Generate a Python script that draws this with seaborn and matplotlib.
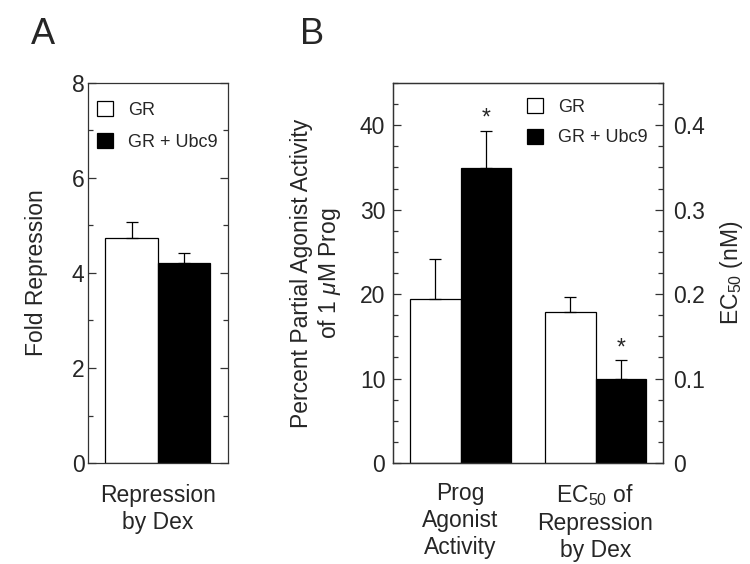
import numpy as np
import pandas as pd
import seaborn as sns
import matplotlib.pyplot as plt

# panel A data
a_category = ["Repression\nby Dex"]
a_gr = [4.73]
a_gr_err = [0.34]
a_ubc9 = [4.21]
a_ubc9_err = [0.20]

# panel B data (left axis: percent agonist activity, right axis: EC50 nM)
b_categories = ["Prog\nAgonist\nActivity", "EC$_{50}$ of\nRepression\nby Dex"]
b_prog_gr = [19.45]
b_prog_gr_err = [4.75]
b_prog_ubc9 = [34.9]
b_prog_ubc9_err = [4.4]
b_ec50_gr = [0.179]
b_ec50_gr_err = [0.018]
b_ec50_ubc9 = [0.099]
b_ec50_ubc9_err = [0.023]

groups = ["GR", "GR + Ubc9"]
colors = {"GR": "white", "GR + Ubc9": "black"}

sns.set_style("ticks")
plt.rcParams['font.family'] = ['Liberation Sans', 'DejaVu Sans']
plt.rcParams['mathtext.fontset'] = 'custom'
plt.rcParams['mathtext.rm'] = 'Liberation Sans'
plt.rcParams['mathtext.it'] = 'Liberation Sans:italic'
plt.rcParams['axes.edgecolor'] = '#333333'
plt.rcParams['axes.linewidth'] = 0.9

FS = 16.5
LEG_FS = 13


def make_df(cats, gr, ubc9):
    return pd.DataFrame({
        "cat": cats * 2,
        "group": ["GR"] * len(cats) + ["GR + Ubc9"] * len(cats),
        "val": list(gr) + list(ubc9),
    })


def add_errors(ax, errs):
    # upper half error bars only, one per drawn bar, left to right
    bars = [p for p in ax.patches if p.get_height() > 0]
    bars = sorted(bars, key=lambda p: p.get_x())
    tops = []
    for p, e in zip(bars, errs):
        x = p.get_x() + p.get_width() / 2
        h = p.get_height()
        ax.errorbar(x, h, yerr=[[0], [e]], color="black", lw=0.9,
                    capsize=4, capthick=0.9)
        tops.append((x, h + e))
    return tops


def style_y(ax, major, minor, pad, left=True, right=True):
    ax.set_yticks(np.arange(0, ax.get_ylim()[1] + 1e-9, major))
    ax.set_yticks(np.arange(0, ax.get_ylim()[1] + 1e-9, minor), minor=True)
    ax.tick_params(axis="y", which="major", direction="in", length=6, width=0.9,
                   left=left, right=right, labelsize=FS, pad=pad, color="#333333")
    ax.tick_params(axis="y", which="minor", direction="in", length=3.5, width=0.9,
                   left=left, right=right, color="#333333")


def style_legend(ax, x, y, spacing):
    leg = ax.legend(loc="upper left", bbox_to_anchor=(x, y), frameon=False,
                    fontsize=LEG_FS, handlelength=0.89, handleheight=0.89,
                    handletextpad=0.83, labelspacing=spacing,
                    borderaxespad=0, borderpad=0)
    for h in leg.legend_handles:
        h.set_edgecolor("black")
        h.set_linewidth(0.9)


fig = plt.figure(figsize=(7.5, 5.64), dpi=100)

# ---------------- panel A
axA = fig.add_axes([0.1173, 0.179, 0.1867, 0.674])
dfA = make_df(a_category, a_gr, a_ubc9)
sns.barplot(data=dfA, x="cat", y="val", hue="group", hue_order=groups,
            palette=colors, edgecolor="black", linewidth=0.9, width=0.75,
            errorbar=None, ax=axA)
axA.set_xlim(-0.5, 0.5)
axA.set_ylim(0, 8)
add_errors(axA, [a_gr_err[0], a_ubc9_err[0]])
style_y(axA, 2, 1, pad=2.5)
axA.tick_params(axis="x", length=0, labelsize=FS, pad=15)
for lab in axA.get_xticklabels():
    lab.set_linespacing(1.22)
axA.set_xlabel("")
axA.set_ylabel("Fold Repression", fontsize=FS, labelpad=17)
style_legend(axA, 0.064, 0.9526, 0.81)

# ---------------- panel B
axB = fig.add_axes([0.524, 0.179, 0.36, 0.674])
axB2 = axB.twinx()
dfB1 = make_df(b_categories[:1], b_prog_gr, b_prog_ubc9)
dfB2 = make_df(b_categories[1:], b_ec50_gr, b_ec50_ubc9)
sns.barplot(data=dfB1, x="cat", y="val", hue="group", hue_order=groups,
            order=b_categories, palette=colors, edgecolor="black",
            linewidth=0.9, width=0.75, errorbar=None, ax=axB)
sns.barplot(data=dfB2, x="cat", y="val", hue="group", hue_order=groups,
            order=b_categories, palette=colors, edgecolor="black",
            linewidth=0.9, width=0.75, errorbar=None, ax=axB2, legend=False)
axB.set_xlim(-0.5, 1.5)
axB.set_ylim(0, 45)
axB2.set_ylim(0, 0.45)
tops1 = add_errors(axB, [b_prog_gr_err[0], b_prog_ubc9_err[0]])
tops2 = add_errors(axB2, [b_ec50_gr_err[0], b_ec50_ubc9_err[0]])
style_y(axB, 10, 2.5, pad=5.5, left=True, right=False)
style_y(axB2, 0.1, 0.025, pad=7, left=False, right=True)
axB2.set_yticklabels(["0", "0.1", "0.2", "0.3", "0.4"])
axB.set_yticklabels(["0", "10", "20", "30", "40"])
axB.set_xlabel("")
axB2.set_xlabel("")
axB.set_ylabel("Percent Partial Agonist Activity\nof 1 $\\mu$M Prog", fontsize=FS,
               labelpad=12, linespacing=1.15)
axB2.set_ylabel("EC$_{50}$ (nM)", fontsize=FS, labelpad=10)
axB.tick_params(axis="x", length=0, labelsize=FS, pad=14)
for lab in axB.get_xticklabels():
    lab.set_linespacing(1.2)

# significance stars above the Ubc9 bars
axB.text(tops1[1][0], tops1[1][1] + 0.8, "*", ha="center", va="baseline", fontsize=FS)
axB2.text(tops2[1][0], tops2[1][1] + 0.007, "*", ha="center", va="baseline", fontsize=FS)

style_legend(axB, 0.496, 0.9605, 0.73)

fig.text(43 / 750, 1 - 35 / 564, "A", fontsize=26, ha="center", va="center")
fig.text(312 / 750, 1 - 35 / 564, "B", fontsize=26, ha="center", va="center")

fig.savefig("out.png", dpi=100)
